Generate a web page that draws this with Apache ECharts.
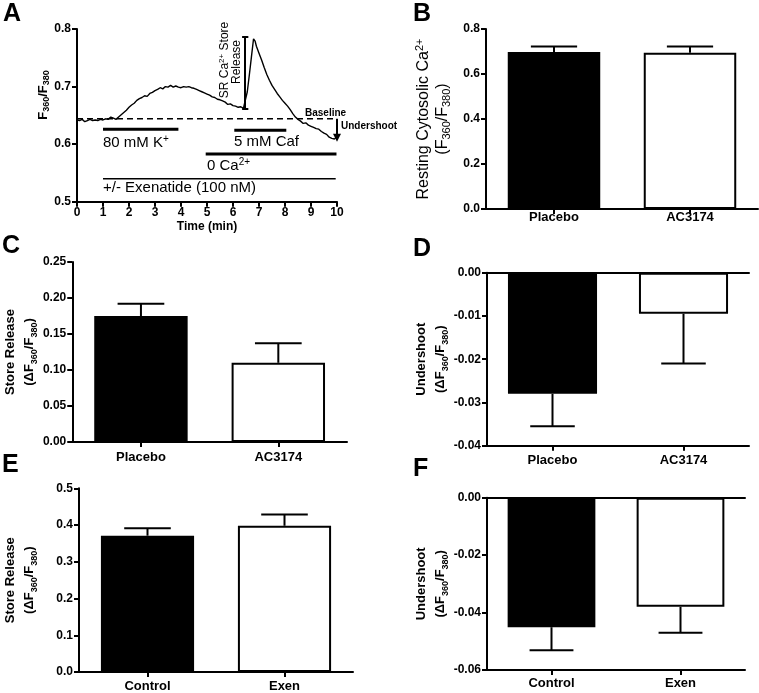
<!DOCTYPE html>
<html><head><meta charset="utf-8">
<script src="https://cdn.jsdelivr.net/npm/echarts@6/dist/echarts.min.js"></script>
<style>html,body{margin:0;padding:0;background:#fff;}#c{width:759px;height:693px;}</style>
</head><body><div id="c"></div><script>
// ---------- Panel A data ----------
const traceTime = [0,0.1,0.2,0.3,0.4,0.5,0.6,0.7,0.8,0.9,1.0,1.1,1.2,1.3,1.4,1.5,1.6,1.7,1.8,1.9,
  2.0,2.1,2.2,2.3,2.4,2.5,2.6,2.7,2.8,2.9,3.0,3.1,3.2,3.3,3.4,3.5,3.6,3.7,3.8,3.9,
  4.0,4.1,4.2,4.3,4.4,4.5,4.6,4.7,4.8,4.9,5.0,5.1,5.2,5.3,5.4,5.5,5.6,5.7,5.8,5.9,
  6.0,6.1,6.2,6.3,6.4,6.47,6.55,6.63,6.71,6.79,6.85,6.9,7.0,7.1,7.2,7.3,7.4,7.5,7.6,7.7,
  7.8,7.9,8.0,8.1,8.2,8.3,8.4,8.5,8.6,8.7,8.8,8.9,9.0,9.1,9.2,9.3,9.4,9.5,9.6,9.7,9.8,9.9,10.0];
const traceRatio = [0.642,0.641,0.643,0.639,0.641,0.643,0.641,0.642,0.641,0.643,0.642,0.644,0.643,0.647,0.645,0.643,0.647,0.651,0.655,0.659,
  0.664,0.668,0.671,0.676,0.679,0.681,0.684,0.683,0.688,0.690,0.693,0.695,0.698,0.696,0.700,0.699,0.702,0.699,0.701,0.699,
  0.698,0.700,0.699,0.700,0.698,0.697,0.695,0.693,0.691,0.689,0.687,0.685,0.682,0.681,0.678,0.677,0.675,0.673,0.669,0.670,
  0.667,0.666,0.664,0.665,0.662,0.660,0.691,0.721,0.752,0.783,0.779,0.770,0.758,0.746,0.733,0.721,0.711,0.702,0.695,0.688,
  0.682,0.676,0.671,0.666,0.660,0.653,0.647,0.643,0.640,0.636,0.637,0.633,0.631,0.629,0.627,0.626,0.622,0.619,0.617,0.612,0.610,0.609,0.613];
const baselineRatio = 0.644;
const undershootEnd = 0.611;
const releaseTime = 6.47, releaseTop = 0.787, releaseBottom = 0.661;
const treatStart = [1.0, 6.05, 4.95, 1.0];
const treatEnd   = [3.9, 8.05, 9.98, 9.95];
const treatLevel = [0.626, 0.624, 0.583, 0.540];

// ---------- Bar panels data ----------
const catsAC = ['Placebo', 'AC3174'];
const catsExen = ['Control', 'Exen'];
const restMean = [0.698, 0.695],  restErr = [0.024, 0.027];     // B
const relACMean = [0.175, 0.110], relACErr = [0.017, 0.027];    // C
const undACMean = [-0.028, -0.0095], undACErr = [0.0075, 0.0115]; // D
const relExMean = [0.371, 0.398], relExErr = [0.020, 0.031];    // E
const undExMean = [-0.0451, -0.038], undExErr = [0.008, 0.009]; // F

// ---------- styling helpers ----------
const FF = "'Liberation Sans', Arial, sans-serif";
const fills = ['#000000', '#ffffff'];
const subRich = {
  sub: {fontSize: 9, fontFamily: FF, fontWeight: 'bold', verticalAlign: 'bottom', lineHeight: 8},
  sup: {fontSize: 9, fontFamily: FF, fontWeight: 'bold', verticalAlign: 'top', lineHeight: 8}
};
const subRichN = {
  sub: {fontSize: 11, fontFamily: FF, verticalAlign: 'bottom', lineHeight: 9},
  sup: {fontSize: 11, fontFamily: FF, verticalAlign: 'top', lineHeight: 9}
};
const axLine = {show: true, onZero: false, lineStyle: {color: '#000', width: 2}};
const axTick = {show: true, length: 5, lineStyle: {color: '#000', width: 2}};
const tickFont = {color: '#000', fontSize: 12, fontWeight: 'bold', fontFamily: FF};
const catFont = {color: '#000', fontSize: 13, fontWeight: 'bold', fontFamily: FF};

function grid(l, t, w, h) { return {left: l, top: t, width: w, height: h, containLabel: false}; }
function catAxis(gi, cats, margin, pos) {
  return {type: 'category', gridIndex: gi, data: cats, position: pos || 'bottom',
    axisLine: axLine, axisTick: Object.assign({alignWithLabel: true}, axTick),
    axisLabel: Object.assign({margin: margin}, catFont), splitLine: {show: false}};
}
function topLine(gi, cats) {
  return {type: 'category', gridIndex: gi, data: cats, position: 'top',
    axisLine: axLine, axisTick: {show: false}, axisLabel: {show: false}, splitLine: {show: false}};
}
function valAxis(gi, min, max, interval, dec, name, gap, nameStyle) {
  return {type: 'value', gridIndex: gi, min: min, max: max, interval: interval,
    axisLine: axLine, axisTick: axTick, splitLine: {show: false},
    axisLabel: Object.assign({margin: 6, formatter: v => v.toFixed(dec)}, tickFont),
    name: name, nameLocation: 'middle', nameRotate: 90, nameGap: gap, nameTextStyle: nameStyle};
}
function barSeries(xi, yi, means) {
  return {type: 'bar', xAxisIndex: xi, yAxisIndex: yi, barCategoryGap: '32%', z: 2,
    data: means.map((m, i) => ({value: m, itemStyle: {color: fills[i], borderColor: '#000', borderWidth: 2}}))};
}
function errSeries(xi, yi, means, errs) {
  return {type: 'custom', xAxisIndex: xi, yAxisIndex: yi, z: 3,
    data: means.map((m, i) => [i, m, m >= 0 ? errs[i] : -errs[i]]),
    renderItem: function (params, api) {
      const x = api.value(0), m = api.value(1), e = api.value(2);
      const p0 = api.coord([x, m]);
      const p1 = api.coord([x, m + e]);
      const hw = api.size([1, 0])[0] * 0.68 * 0.25;
      const st = {stroke: '#000', lineWidth: 2};
      return {type: 'group', children: [
        {type: 'line', shape: {x1: p0[0], y1: p0[1], x2: p1[0], y2: p1[1]}, style: st},
        {type: 'line', shape: {x1: p1[0] - hw, y1: p1[1], x2: p1[0] + hw, y2: p1[1]}, style: st}
      ]};
    }};
}

const boldName = {color: '#000', fontSize: 13, fontWeight: 'bold', fontFamily: FF, lineHeight: 19, rich: subRich};
const normName = {color: '#000', fontSize: 16, fontFamily: FF, lineHeight: 19, rich: subRichN};
const dF = '(\u0394F{sub|360}/F{sub|380})';

// Panel A series
const traceSeries = {type: 'line', xAxisIndex: 0, yAxisIndex: 0, showSymbol: false, z: 3,
  data: traceTime.map((t, i) => [t, traceRatio[i]]),
  lineStyle: {color: '#000', width: 1.4},
  markLine: {silent: true, symbol: 'none', animation: false, label: {show: false},
    lineStyle: {color: '#000', width: 2, type: 'solid'},
    data: [
      [{coord: [releaseTime, releaseTop]}, {coord: [releaseTime, releaseBottom]}],
      [{coord: [releaseTime - 0.12, releaseTop]}, {coord: [releaseTime + 0.12, releaseTop]}],
      [{coord: [releaseTime - 0.12, releaseBottom]}, {coord: [releaseTime + 0.12, releaseBottom]}],
      [{coord: [10, baselineRatio], symbol: 'none'}, {coord: [10, undershootEnd], symbol: 'triangle', symbolSize: [8, 8], symbolRotate: 180}]
    ]}
};
const baselineSeries = {type: 'line', xAxisIndex: 0, yAxisIndex: 0, showSymbol: false, z: 2,
  data: [[0, baselineRatio], [10, baselineRatio]],
  lineStyle: {color: '#000', width: 1.5, type: [6, 4]}};
const treatSeries = treatStart.map((s, i) => ({type: 'line', xAxisIndex: 0, yAxisIndex: 0, showSymbol: false,
  data: [[s, treatLevel[i]], [treatEnd[i], treatLevel[i]]],
  lineStyle: {color: '#000', width: i === 3 ? 1.5 : 3}}));

const supRich15 = {sup: {fontSize: 10, fontFamily: FF, verticalAlign: 'top', lineHeight: 8}};
function txt(x, y, text, size, weight, extra) {
  return Object.assign({type: 'text', x: x, y: y, silent: true,
    style: {text: text, fill: '#000', fontSize: size, fontWeight: weight || 'normal', fontFamily: FF,
      align: 'left', verticalAlign: 'middle', rich: supRich15, lineHeight: 18}}, extra || {});
}
const panelLabels = [['A', 3, 14], ['B', 413, 14], ['C', 2, 246], ['D', 413, 249], ['E', 2, 465], ['F', 413, 469]];

const option = {
  animation: false,
  backgroundColor: '#fff',
  grid: [grid(77, 29, 260, 172.7), grid(486, 29, 272, 180), grid(71, 262, 276, 180),
         grid(487, 272.7, 262, 173), grid(77, 488.3, 276, 184), grid(487, 497.7, 258, 172.3)],
  xAxis: [
    {type: 'value', gridIndex: 0, min: 0, max: 10, interval: 1, axisLine: axLine, axisTick: axTick,
      splitLine: {show: false}, axisLabel: Object.assign({margin: 5}, tickFont),
      name: 'Time (min)', nameLocation: 'middle', nameGap: 19,
      nameTextStyle: {color: '#000', fontSize: 12, fontWeight: 'bold', fontFamily: FF}},
    catAxis(1, catsAC, 2),
    catAxis(2, catsAC, 9),
    catAxis(3, catsAC, 8), topLine(3, catsAC),
    catAxis(4, catsExen, 8),
    catAxis(5, catsExen, 7), topLine(5, catsExen)
  ],
  yAxis: [
    valAxis(0, 0.5, 0.8, 0.1, 1, '', 0, {}),
    valAxis(1, 0, 0.8, 0.2, 1, 'Resting Cytosolic Ca{sup|2+}\n(F{sub|360}/F{sub|380})', 34, normName),
    valAxis(2, 0, 0.25, 0.05, 2, 'Store Release\n' + dF, 33, boldName),
    valAxis(3, -0.04, 0, 0.01, 2, 'Undershoot\n' + dF, 36, boldName),
    valAxis(4, 0, 0.5, 0.1, 1, 'Store Release\n' + dF, 40, boldName),
    valAxis(5, -0.06, 0, 0.02, 2, 'Undershoot\n' + dF, 36, boldName)
  ],
  series: [traceSeries, baselineSeries].concat(treatSeries).concat([
    barSeries(1, 1, restMean), errSeries(1, 1, restMean, restErr),
    barSeries(2, 2, relACMean), errSeries(2, 2, relACMean, relACErr),
    barSeries(3, 3, undACMean), errSeries(3, 3, undACMean, undACErr),
    barSeries(5, 4, relExMean), errSeries(5, 4, relExMean, relExErr),
    barSeries(6, 5, undExMean), errSeries(6, 5, undExMean, undExErr)
  ]),
  graphic: panelLabels.map(p => ({type: 'text', x: p[1], y: p[2], silent: true,
      style: {text: p[0], fill: '#000', fontSize: 25, fontWeight: 'bold', fontFamily: FF, align: 'left', verticalAlign: 'middle'}}))
    .concat([
      {type: 'text', x: 43, y: 95, rotation: Math.PI / 2, silent: true,
        style: {text: 'F{sub|360}/F{sub|380}', fill: '#000', fontSize: 13, fontWeight: 'bold', fontFamily: FF,
          align: 'center', verticalAlign: 'middle', rich: subRich, lineHeight: 16}},
      txt(103, 143, '80 mM K{sup|+}', 15),
      txt(234, 142, '5 mM Caf', 15),
      txt(207, 166, '0 Ca{sup|2+}', 15),
      txt(103, 188, '+/- Exenatide (100 nM)', 15),
      txt(305, 113, 'Baseline', 10, 'bold'),
      txt(341, 126, 'Undershoot', 10, 'bold'),
      {type: 'text', x: 225, y: 60, rotation: Math.PI / 2, silent: true,
        style: {text: 'SR Ca{sup|2+} Store', fill: '#000', fontSize: 12, fontFamily: FF, align: 'center', verticalAlign: 'middle',
          lineHeight: 15, rich: {sup: {fontSize: 8, fontFamily: FF, verticalAlign: 'top', lineHeight: 7}}}},
      {type: 'text', x: 237, y: 62, rotation: Math.PI / 2, silent: true,
        style: {text: 'Release', fill: '#000', fontSize: 12, fontFamily: FF, align: 'center', verticalAlign: 'middle'}}
    ])
};
const chart = echarts.init(document.getElementById('c'), null, {renderer: 'canvas'});
chart.setOption(option);
</script></body></html>
